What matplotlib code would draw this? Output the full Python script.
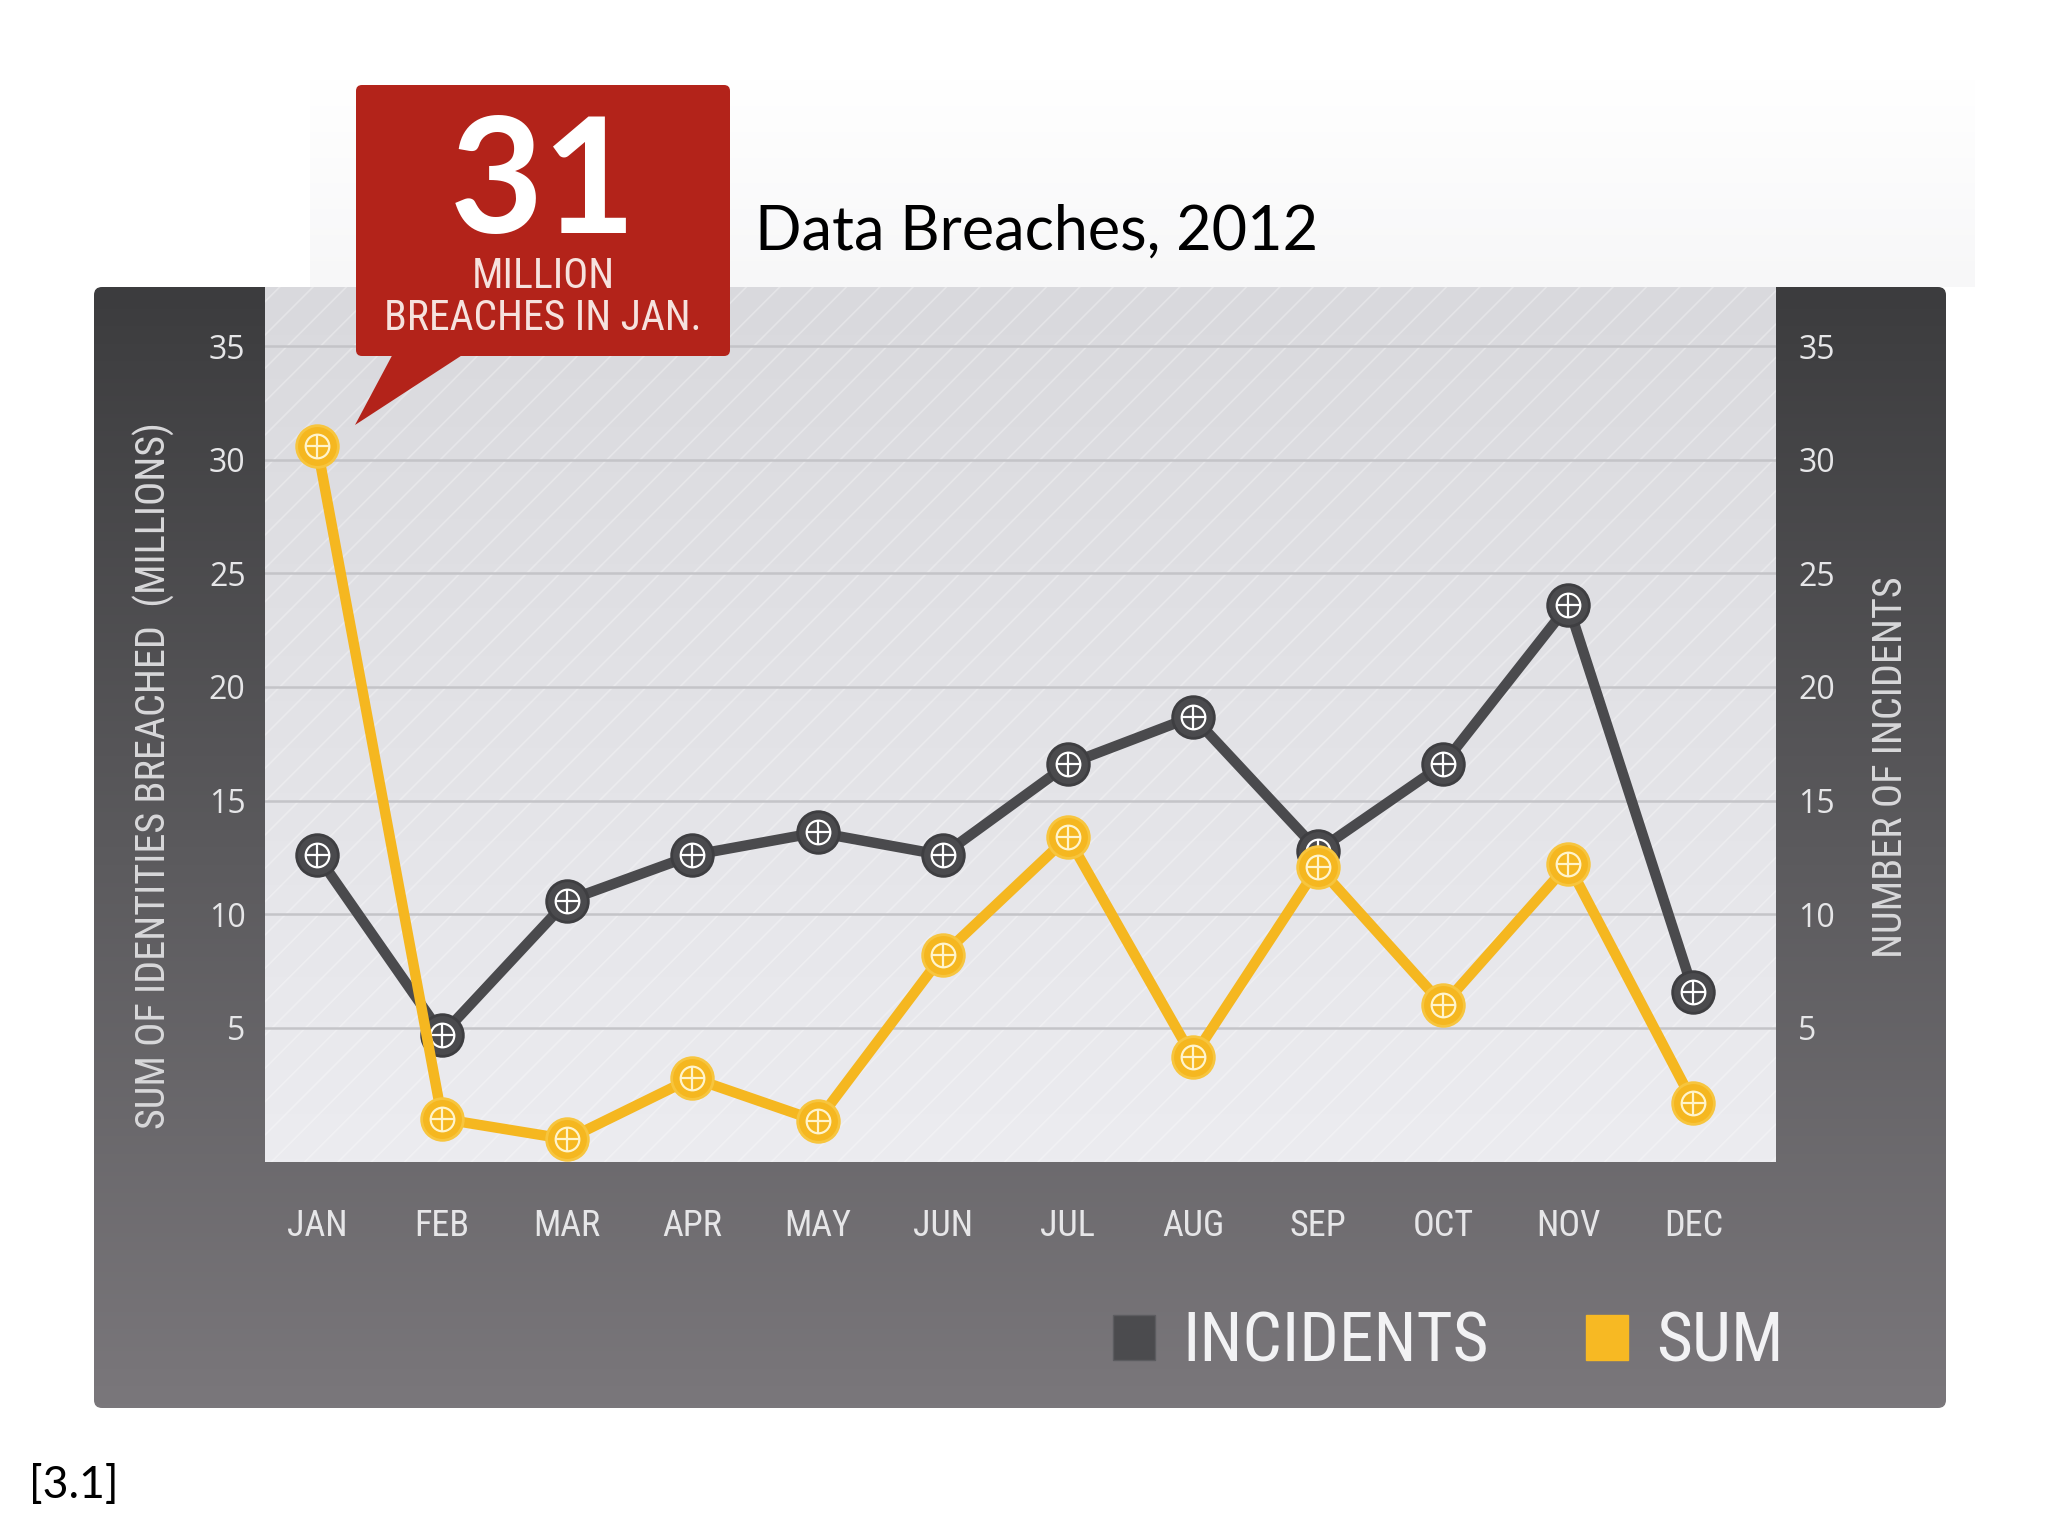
import matplotlib
matplotlib.use('Agg')
import matplotlib.pyplot as plt
import numpy as np
from matplotlib import font_manager as fm
from matplotlib.colors import LinearSegmentedColormap
from matplotlib.patches import FancyBboxPatch, Polygon, Rectangle, Patch

months = ['JAN', 'FEB', 'MAR', 'APR', 'MAY', 'JUN', 'JUL', 'AUG', 'SEP', 'OCT', 'NOV', 'DEC']
incidents = [12.6, 4.7, 10.6, 12.6, 13.6, 12.6, 16.6, 18.7, 12.8, 16.6, 23.6, 6.6]
sum_millions = [30.6, 1.0, 0.1, 2.8, 0.9, 8.2, 13.4, 3.7, 12.1, 6.0, 12.2, 1.7]
yticks = [5, 10, 15, 20, 25, 30, 35]

names = {f.name for f in fm.fontManager.ttflist}
def pick(*cands):
    return next((c for c in cands if c in names), 'DejaVu Sans')

narrow = pick('Liberation Sans Narrow', 'Roboto Condensed', 'Open Sans Condensed', 'Roboto')
plain = pick('Open Sans', 'Lato', 'DejaVu Sans')
title_font = pick('Lato', 'Open Sans')

W, H = 2048, 1536
fig = plt.figure(figsize=(20.48, 15.36), dpi=100)
fig.patch.set_facecolor('white')

# background layer in pixel coords
bg = fig.add_axes([0, 0, 1, 1], zorder=0)
bg.set_xlim(0, W)
bg.set_ylim(H, 0)
bg.axis('off')

grad = np.linspace(0, 1, 256).reshape(-1, 1)

# very faint band above the panel
top_cmap = LinearSegmentedColormap.from_list('t', ['#ffffff', '#f7f7f8'])
bg.imshow(grad, cmap=top_cmap, extent=(310, 1975, 287, 80), aspect='auto', zorder=0)

# dark panel
panel = FancyBboxPatch((94, 287), 1852, 1121, boxstyle='round,pad=0,rounding_size=8',
                       facecolor='none', edgecolor='none')
bg.add_patch(panel)
panel_cmap = LinearSegmentedColormap.from_list('p', ['#3c3c3e', '#5b5a5d', '#7a777b'])
im = bg.imshow(grad, cmap=panel_cmap, extent=(94, 1946, 1408, 287), aspect='auto', zorder=1)
im.set_clip_path(panel)

# light plot area
area_cmap = LinearSegmentedColormap.from_list('a', ['#d9d9dd', '#ececf0'])
bg.imshow(grad, cmap=area_cmap, extent=(265, 1776, 1162, 287), aspect='auto', zorder=2)
plt.rcParams['hatch.linewidth'] = 1.2
bg.add_patch(Rectangle((265, 287), 1511, 875, facecolor='none', edgecolor=(1, 1, 1, 0.3),
                       hatch='/', lw=0, zorder=3))

# main axes
ax = fig.add_axes([265 / W, 1 - 1162 / H, 1511 / W, 875 / H], zorder=2)
ax.set_facecolor('none')
x = np.arange(len(months))
ax.set_xlim(-0.416, 11.66)
ax.set_ylim(-0.9, 37.6)

dark = '#4a4a4d'
yellow = '#f5b720'

ax.plot(x, incidents, color=dark, lw=7.5, marker='o', ms=30, mfc=dark, mec='#3e3e41', mew=2,
        solid_joinstyle='round', zorder=3)
ax.plot(x, incidents, ls='none', marker='o', ms=17, mfc='none', mec='white', mew=1.6, zorder=4)
ax.plot(x, incidents, ls='none', marker='+', ms=17, mec='white', mew=1.6, zorder=4)

ax.plot(x, sum_millions, color=yellow, lw=7.5, marker='o', ms=30, mfc=yellow, mec='#f7c53e', mew=2,
        solid_joinstyle='round', zorder=5)
ax.plot(x, sum_millions, ls='none', marker='o', ms=17, mfc='none', mec='#fff4cc', mew=1.6, zorder=6)
ax.plot(x, sum_millions, ls='none', marker='+', ms=17, mec='#fff4cc', mew=1.6, zorder=6)

ax.set_yticks(yticks)
ax.yaxis.grid(True, color='#c4c4c8', lw=1.8)
ax.set_axisbelow(True)
ax.set_xticks(x)
ax.set_xticklabels(months, fontsize=26, fontfamily=narrow, color='#e6e6e8')
ax.tick_params(axis='x', length=0, pad=33)
ax.tick_params(axis='y', length=0, pad=14, labelsize=23, labelcolor='#e6e6e8')
for t in ax.get_yticklabels():
    t.set_fontfamily(plain)
for s in ax.spines.values():
    s.set_visible(False)

ax.set_ylabel('SUM OF IDENTITIES BREACHED  (MILLIONS)', fontsize=29, fontfamily=narrow,
              color='#d8d8da', va='center')
ax.yaxis.set_label_coords(-0.0735, 0.442)

ax2 = ax.twinx()
ax2.set_ylim(ax.get_ylim())
ax2.set_yticks(yticks)
ax2.tick_params(axis='y', length=0, pad=16, labelsize=23, labelcolor='#e6e6e8')
for t in ax2.get_yticklabels():
    t.set_fontfamily(plain)
for s in ax2.spines.values():
    s.set_visible(False)
ax2.set_ylabel('NUMBER OF INCIDENTS', fontsize=29, fontfamily=narrow, color='#d8d8da',
               rotation=90, va='center')
ax2.yaxis.set_label_coords(1.0755, 0.451)

handles = [Patch(facecolor='#4b4b4e', edgecolor='#5c5c60', label='INCIDENTS'),
           Patch(facecolor='#f7b923', edgecolor='#f7b923', label='SUM')]
leg = ax.legend(handles=handles, loc='center left', bbox_to_anchor=(1113 / W, 1 - 1343 / H),
                bbox_transform=fig.transFigure, ncol=2, frameon=False, borderpad=0, borderaxespad=0,
                handlelength=0.6, handleheight=0.6, handletextpad=0.4, columnspacing=1.4,
                prop={'family': narrow, 'size': 50})
for t in leg.get_texts():
    t.set_color('#f2f2f4')

# overlay for the callout
top = fig.add_axes([0, 0, 1, 1], zorder=10)
top.set_xlim(0, W)
top.set_ylim(H, 0)
top.axis('off')
red = '#b3231a'
top.add_patch(FancyBboxPatch((356, 85), 374, 271, boxstyle='round,pad=0,rounding_size=6',
                             facecolor=red, edgecolor='none'))
top.add_patch(Polygon([(395, 350), (470, 350), (355, 425)], closed=True, facecolor=red, edgecolor='none'))
top.text(543, 186, '31', fontsize=116, fontweight='bold', fontfamily=title_font, color='white',
         ha='center', va='center')
top.text(543, 277, 'MILLION', fontsize=30, fontfamily=narrow, color='#f6e2de', ha='center', va='center')
top.text(543, 318, 'BREACHES IN JAN.', fontsize=30, fontfamily=narrow, color='#f6e2de',
         ha='center', va='center')

top.text(755, 232, 'Data Breaches, 2012', fontsize=44, fontfamily=title_font, color='black',
         ha='left', va='center')
top.text(29, 1486, '[3.1]', fontsize=32, fontfamily=title_font, color='black', ha='left', va='center')

fig.savefig('out.png', dpi=100)
